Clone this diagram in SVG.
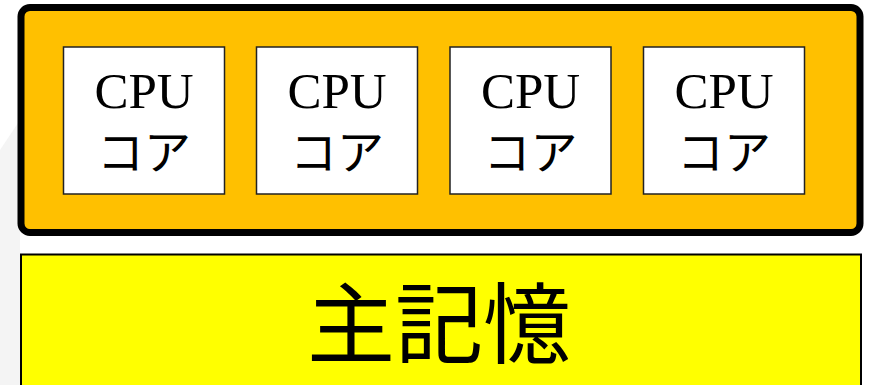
<svg xmlns="http://www.w3.org/2000/svg" width="870" height="385" viewBox="0 0 870 385">
<style>
.core{fill:#ffffff;stroke:#222222;stroke-width:1.5}
.en{font-family:"Liberation Serif","Times New Roman",serif;font-size:51px;fill:#000;text-anchor:middle}
.ja{font-family:"Noto Sans CJK JP","Noto Sans CJK SC",sans-serif;font-size:47px;fill:#000;text-anchor:middle}
</style>
<rect width="870" height="385" fill="#ffffff"/>
<polygon points="0,150 20,120 20,385 0,385" fill="#f4f4f4"/>
<g id="cpu">
<rect x="21" y="7.5" width="839" height="225" rx="9" fill="#FFC000" stroke="#000000" stroke-width="7"/>
</g>
<g id="core1">
<rect class="core" x="63.5" y="47" width="161" height="147"/>
<text class="en" x="144" y="108">CPU</text>
<text class="ja" x="144" y="169">コア</text>
</g>
<g id="core2">
<rect class="core" x="256.5" y="47" width="161" height="147"/>
<text class="en" x="337" y="108">CPU</text>
<text class="ja" x="337" y="169">コア</text>
</g>
<g id="core3">
<rect class="core" x="450" y="47" width="161" height="147"/>
<text class="en" x="530.5" y="108">CPU</text>
<text class="ja" x="530.5" y="169">コア</text>
</g>
<g id="core4">
<rect class="core" x="643.5" y="47" width="161" height="147"/>
<text class="en" x="724" y="108">CPU</text>
<text class="ja" x="724" y="169">コア</text>
</g>
<g id="memory">
<rect x="21" y="254.5" width="840" height="140" fill="#FFFF00" stroke="#000000" stroke-width="2"/>
<text x="439" y="356" font-family="'Noto Sans CJK JP','Noto Sans CJK SC',sans-serif" font-size="88" fill="#000" text-anchor="middle">主記憶</text>
</g>
<g id="connectors"></g>
</svg>
